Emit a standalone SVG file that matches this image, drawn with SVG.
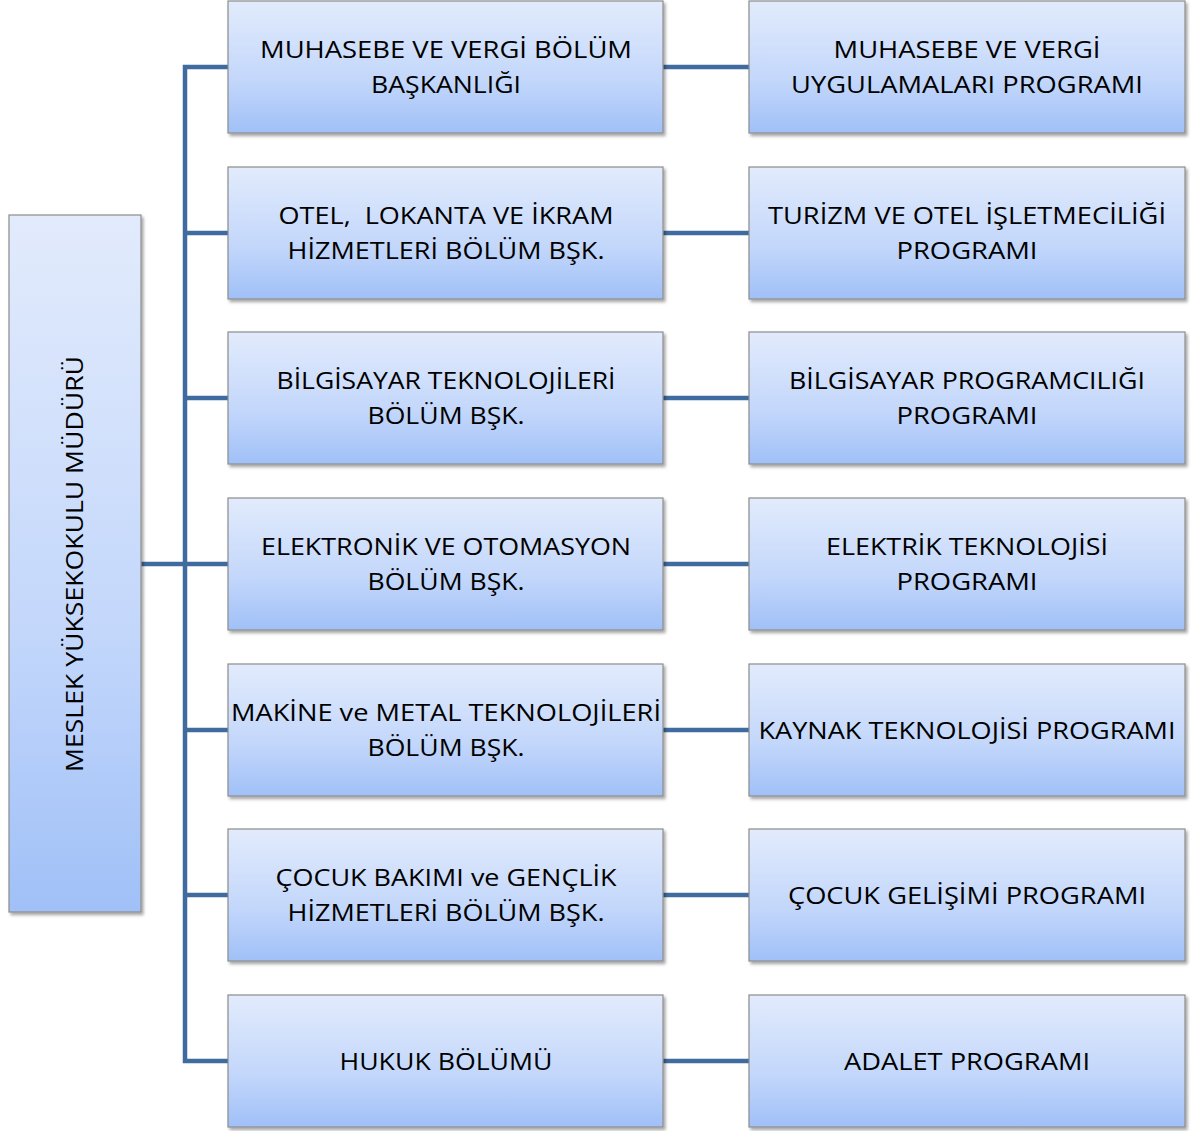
<svg xmlns="http://www.w3.org/2000/svg" width="1192" height="1131" viewBox="0 0 1192 1131">
<defs>
<linearGradient id="g" x1="0" y1="0" x2="0" y2="1">
<stop offset="0" stop-color="#e2ebfc"/>
<stop offset="0.6" stop-color="#c3d7fb"/>
<stop offset="1" stop-color="#a0c0f7"/>
</linearGradient>
<filter id="sh" x="-5%" y="-5%" width="112%" height="112%">
<feDropShadow dx="2" dy="2.5" stdDeviation="1.5" flood-color="#000" flood-opacity="0.35"/>
</filter>
<style>
.box{fill:url(#g);stroke:#8c8c8c;stroke-width:1.2;filter:url(#sh)}
.t{font-family:"Open Sans","Liberation Sans",sans-serif;font-size:24.5px;fill:#000;text-anchor:middle;white-space:pre}
.c{stroke:#3f6b9f;stroke-width:4.5;fill:none}
</style>
</defs>
<rect width="1192" height="1131" fill="#fff"/>
<g id="connectors">
<path class="c" d="M230 67H185V1061H230"/>
<path class="c" d="M185 233H230M185 398H230M185 730H230M185 895H230"/>
<path class="c" d="M141 564H230"/>
<path class="c" d="M663 67H749M663 233H749M663 398H749M663 564H749M663 730H749M663 895H749M663 1061H749"/>
</g>
<g id="n-mudur">
<rect class="box" x="9" y="215" width="132" height="697"/>
<text class="t" transform="translate(83,564) rotate(-90)" textLength="416" lengthAdjust="spacingAndGlyphs">MESLEK YÜKSEKOKULU MÜDÜRÜ</text>
</g>
<g id="n-b1">
<rect class="box" x="228" y="1" width="435" height="132"/>
<text class="t" x="446" y="58" textLength="372" lengthAdjust="spacingAndGlyphs">MUHASEBE VE VERGİ BÖLÜM</text>
<text class="t" x="446" y="93" textLength="150" lengthAdjust="spacingAndGlyphs">BAŞKANLIĞI</text>
</g>
<g id="n-p1">
<rect class="box" x="749" y="1" width="436" height="132"/>
<text class="t" x="967" y="58" textLength="267" lengthAdjust="spacingAndGlyphs">MUHASEBE VE VERGİ</text>
<text class="t" x="967" y="93" textLength="352" lengthAdjust="spacingAndGlyphs">UYGULAMALARI PROGRAMI</text>
</g>
<g id="n-b2">
<rect class="box" x="228" y="167" width="435" height="132"/>
<text class="t" x="446" y="224" textLength="335" lengthAdjust="spacingAndGlyphs" xml:space="preserve">OTEL,  LOKANTA VE İKRAM</text>
<text class="t" x="446" y="259" textLength="317" lengthAdjust="spacingAndGlyphs">HİZMETLERİ BÖLÜM BŞK.</text>
</g>
<g id="n-p2">
<rect class="box" x="749" y="167" width="436" height="132"/>
<text class="t" x="967" y="224" textLength="398" lengthAdjust="spacingAndGlyphs">TURİZM VE OTEL İŞLETMECİLİĞİ</text>
<text class="t" x="967" y="259" textLength="141" lengthAdjust="spacingAndGlyphs">PROGRAMI</text>
</g>
<g id="n-b3">
<rect class="box" x="228" y="332" width="435" height="132"/>
<text class="t" x="446" y="389" textLength="339" lengthAdjust="spacingAndGlyphs">BİLGİSAYAR TEKNOLOJİLERİ</text>
<text class="t" x="446" y="424" textLength="157" lengthAdjust="spacingAndGlyphs">BÖLÜM BŞK.</text>
</g>
<g id="n-p3">
<rect class="box" x="749" y="332" width="436" height="132"/>
<text class="t" x="967" y="389" textLength="356" lengthAdjust="spacingAndGlyphs">BİLGİSAYAR PROGRAMCILIĞI</text>
<text class="t" x="967" y="424" textLength="141" lengthAdjust="spacingAndGlyphs">PROGRAMI</text>
</g>
<g id="n-b4">
<rect class="box" x="228" y="498" width="435" height="132"/>
<text class="t" x="446" y="555" textLength="370" lengthAdjust="spacingAndGlyphs">ELEKTRONİK VE OTOMASYON</text>
<text class="t" x="446" y="590" textLength="157" lengthAdjust="spacingAndGlyphs">BÖLÜM BŞK.</text>
</g>
<g id="n-p4">
<rect class="box" x="749" y="498" width="436" height="132"/>
<text class="t" x="967" y="555" textLength="282" lengthAdjust="spacingAndGlyphs">ELEKTRİK TEKNOLOJİSİ</text>
<text class="t" x="967" y="590" textLength="141" lengthAdjust="spacingAndGlyphs">PROGRAMI</text>
</g>
<g id="n-b5">
<rect class="box" x="228" y="664" width="435" height="132"/>
<text class="t" x="446" y="721" textLength="430" lengthAdjust="spacingAndGlyphs">MAKİNE ve METAL TEKNOLOJİLERİ</text>
<text class="t" x="446" y="756" textLength="157" lengthAdjust="spacingAndGlyphs">BÖLÜM BŞK.</text>
</g>
<g id="n-p5">
<rect class="box" x="749" y="664" width="436" height="132"/>
<text class="t" x="967" y="738.5" textLength="417" lengthAdjust="spacingAndGlyphs">KAYNAK TEKNOLOJİSİ PROGRAMI</text>
</g>
<g id="n-b6">
<rect class="box" x="228" y="829" width="435" height="132"/>
<text class="t" x="446" y="886" textLength="341" lengthAdjust="spacingAndGlyphs">ÇOCUK BAKIMI ve GENÇLİK</text>
<text class="t" x="446" y="921" textLength="317" lengthAdjust="spacingAndGlyphs">HİZMETLERİ BÖLÜM BŞK.</text>
</g>
<g id="n-p6">
<rect class="box" x="749" y="829" width="436" height="132"/>
<text class="t" x="967" y="903.5" textLength="358" lengthAdjust="spacingAndGlyphs">ÇOCUK GELİŞİMİ PROGRAMI</text>
</g>
<g id="n-b7">
<rect class="box" x="228" y="995" width="435" height="132"/>
<text class="t" x="446" y="1069.5" textLength="213" lengthAdjust="spacingAndGlyphs">HUKUK BÖLÜMÜ</text>
</g>
<g id="n-p7">
<rect class="box" x="749" y="995" width="436" height="132"/>
<text class="t" x="967" y="1069.5" textLength="246" lengthAdjust="spacingAndGlyphs">ADALET PROGRAMI</text>
</g>
</svg>
